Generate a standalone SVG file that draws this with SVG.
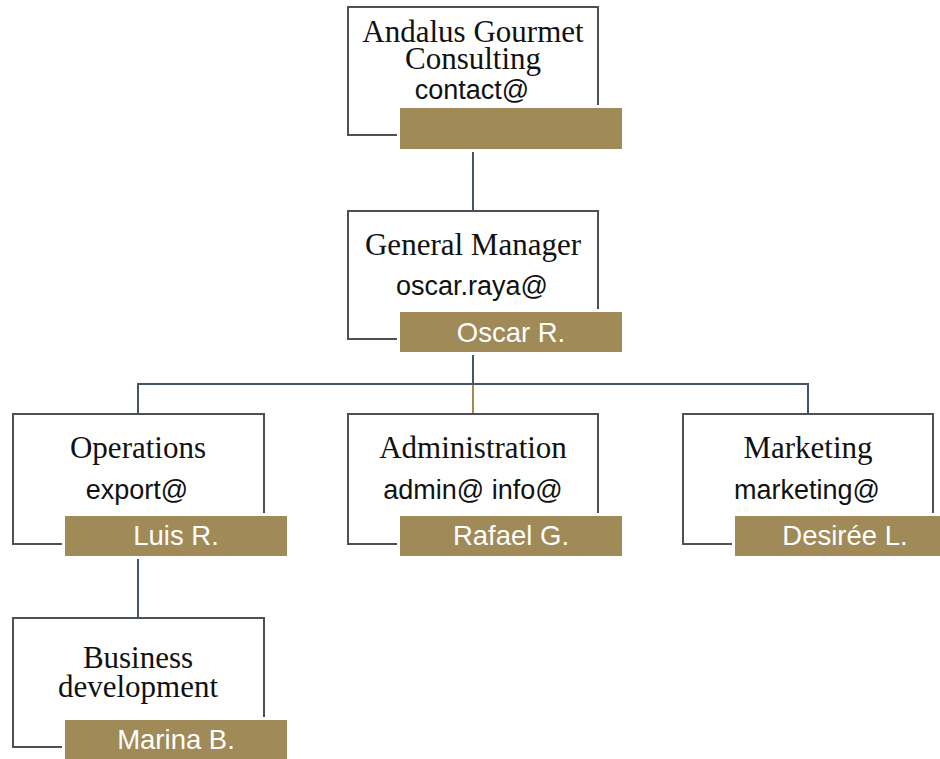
<svg xmlns="http://www.w3.org/2000/svg" width="940" height="759" viewBox="0 0 940 759">
<style>
.box{fill:#ffffff;stroke:#4b5157;stroke-width:2}
.gap{fill:#ffffff}
.bar{fill:#a08a58}
.t{font-family:"Liberation Serif","Times New Roman",serif;font-size:31px;fill:#111111;text-anchor:middle}
.e{font-family:"Liberation Sans",Arial,sans-serif;font-size:27px;fill:#111111;text-anchor:middle}
.n{font-family:"Liberation Sans",Arial,sans-serif;font-size:27.5px;fill:#ffffff;text-anchor:middle}
.c{stroke:#44546a;stroke-width:2;fill:none}
.cg{stroke:#a08a58;stroke-width:2;fill:none}
</style>
<rect width="940" height="759" fill="#ffffff"/>
<g id="connectors">
<line class="c" x1="473" y1="149" x2="473" y2="211"/>
<line class="c" x1="473" y1="355" x2="473" y2="384"/>
<line class="c" x1="137" y1="384" x2="809" y2="384"/>
<line class="c" x1="138" y1="384" x2="138" y2="414"/>
<line class="c" x1="808" y1="384" x2="808" y2="414"/>
<line class="cg" x1="473" y1="385" x2="473" y2="414"/>
<line class="c" x1="138" y1="559" x2="138" y2="618"/>
</g>
<g id="node-company">
<rect class="box" x="348" y="7" width="250" height="128"/>
<rect class="gap" x="397" y="105" width="228" height="47"/>
<rect class="bar" x="400" y="108" width="222" height="41"/>
<text class="t" x="473" y="42">Andalus Gourmet</text>
<text class="t" x="473" y="69">Consulting</text>
<text class="e" x="472" y="99">contact@</text>
</g>
<g id="node-gm">
<rect class="box" x="348" y="211" width="250" height="128"/>
<rect class="gap" x="397" y="309" width="228" height="46"/>
<rect class="bar" x="400" y="312" width="222" height="40"/>
<text class="t" x="473" y="255">General Manager</text>
<text class="e" x="472" y="295">oscar.raya@</text>
<text class="n" x="511" y="342">Oscar R.</text>
</g>
<g id="node-operations">
<rect class="box" x="13" y="414" width="251" height="130"/>
<rect class="gap" x="62" y="513" width="228" height="46"/>
<rect class="bar" x="65" y="516" width="222" height="40"/>
<text class="t" x="138" y="458">Operations</text>
<text class="e" x="137" y="499">export@</text>
<text class="n" x="176" y="545">Luis R.</text>
</g>
<g id="node-administration">
<rect class="box" x="348" y="414" width="250" height="130"/>
<rect class="gap" x="397" y="513" width="228" height="46"/>
<rect class="bar" x="400" y="516" width="222" height="40"/>
<text class="t" x="473" y="458">Administration</text>
<text class="e" x="473" y="499">admin@ info@</text>
<text class="n" x="511" y="545">Rafael G.</text>
</g>
<g id="node-marketing">
<rect class="box" x="683" y="414" width="250" height="130"/>
<rect class="gap" x="732" y="513" width="228" height="46"/>
<rect class="bar" x="735" y="516" width="222" height="40"/>
<text class="t" x="808" y="458">Marketing</text>
<text class="e" x="807" y="499">marketing@</text>
<text class="n" x="845" y="545">Desirée L.</text>
</g>
<g id="node-bizdev">
<rect class="box" x="13" y="618" width="251" height="129"/>
<rect class="gap" x="62" y="717" width="228" height="46"/>
<rect class="bar" x="65" y="720" width="222" height="40"/>
<text class="t" x="138" y="668">Business</text>
<text class="t" x="138" y="697">development</text>
<text class="n" x="176" y="749">Marina B.</text>
</g>
</svg>
